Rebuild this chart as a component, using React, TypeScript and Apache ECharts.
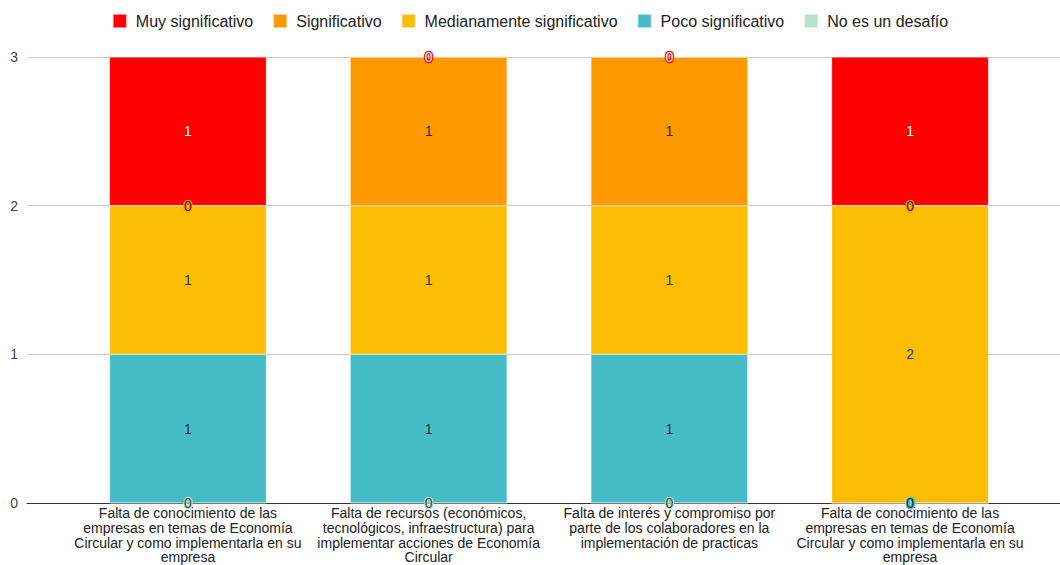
import React, { useEffect, useRef } from "react";
import * as echarts from "echarts";

// Barriers to adopting circular economy practices, by how significant they are
const categories: string[] = [
  "Falta de conocimiento de las\nempresas en temas de Economía\nCircular y como implementarla en su\nempresa",
  "Falta de recursos (económicos,\ntecnológicos, infraestructura) para\nimplementar acciones de Economía\nCircular",
  "Falta de interés y compromiso por\nparte de los colaboradores en la\nimplementación de practicas",
  "Falta de conocimiento de las\nempresas en temas de Economía\nCircular y como implementarla en su\nempresa",
];

const muySignificativo: number[] = [1, 0, 0, 1];
const significativo: number[] = [0, 1, 1, 0];
const medianamente: number[] = [1, 1, 1, 2];
const pocoSignificativo: number[] = [1, 1, 1, 0];
const noEsUnDesafio: number[] = [0, 0, 0, 0];

const yTicks: number[] = [0, 1, 2, 3];

const FONT = "Arial, 'Liberation Sans', sans-serif";

// Stacked bottom-up: first entry sits on the axis
const stackSeries = [
  { name: "No es un desafío", data: noEsUnDesafio, color: "#b7e1cd", text: "#3a4a44" },
  { name: "Poco significativo", data: pocoSignificativo, color: "#46bdc6", text: "#10383b" },
  { name: "Medianamente significativo", data: medianamente, color: "#fbbc04", text: "#3d3000" },
  { name: "Significativo", data: significativo, color: "#ff9900", text: "#3d2500" },
  { name: "Muy significativo", data: muySignificativo, color: "#ff0000", text: "#ffffff" },
];

const legendOrder = [
  "Muy significativo",
  "Significativo",
  "Medianamente significativo",
  "Poco significativo",
  "No es un desafío",
];

export default function App() {
  const ref = useRef<HTMLDivElement>(null);

  useEffect(() => {
    if (!ref.current) return;
    const chart = echarts.init(ref.current, undefined, { renderer: "svg" });
    const yMax = yTicks[yTicks.length - 1];

    chart.setOption({
      animation: false,
      backgroundColor: "#ffffff",
      textStyle: { fontFamily: FONT },
      legend: {
        data: legendOrder,
        top: 8,
        left: "center",
        icon: "rect",
        itemWidth: 14,
        itemHeight: 14,
        itemGap: 19,
        textStyle: {
          fontSize: 16,
          color: "#222",
          fontFamily: FONT,
          padding: [0, 0, 0, 4],
        },
      },
      grid: [
        { left: 27, right: 0, top: 57, bottom: 62, outerBoundsMode: "none" },
        { left: 67.6, right: 29.6, top: 57, bottom: 62, outerBoundsMode: "none" },
      ],
      xAxis: [
        {
          type: "value",
          gridIndex: 0,
          min: 0,
          max: 1,
          axisLine: { show: true, lineStyle: { color: "#333", width: 1 } },
          axisTick: { show: false },
          axisLabel: { show: false },
          splitLine: { show: false },
        },
        {
          type: "category",
          gridIndex: 1,
          data: categories,
          axisLine: { show: false },
          axisTick: { show: false },
          axisLabel: {
            interval: 0,
            margin: 3,
            fontSize: 14,
            lineHeight: 14.7,
            color: "#222",
            fontFamily: FONT,
            align: "center",
          },
        },
      ],
      yAxis: [
        {
          type: "value",
          gridIndex: 0,
          min: 0,
          max: yMax,
          interval: 1,
          axisLine: { show: false },
          axisTick: { show: false },
          axisLabel: { fontSize: 14, color: "#444", margin: 9, fontFamily: FONT },
          splitLine: { lineStyle: { color: "#cccccc", width: 1 } },
        },
        {
          type: "value",
          gridIndex: 1,
          min: 0,
          max: yMax,
          interval: 1,
          show: false,
        },
      ],
      series: stackSeries.map((s) => ({
        name: s.name,
        type: "bar",
        stack: "total",
        xAxisIndex: 1,
        yAxisIndex: 1,
        barWidth: 157,
        data: s.data,
        itemStyle: {
          color: s.color,
          borderColor: "rgba(255,255,255,0.55)",
          borderWidth: 0.6,
        },
        label: {
          show: true,
          position: "inside",
          fontSize: 14,
          color: s.text,
          textBorderColor: s.color,
          textBorderWidth: 2.5,
          fontFamily: FONT,
        },
      })),
    });

    return () => chart.dispose();
  }, []);

  return (
    <div
      ref={ref}
      style={{ position: "fixed", left: 0, top: 0, width: 1060, height: 565 }}
    />
  );
}
